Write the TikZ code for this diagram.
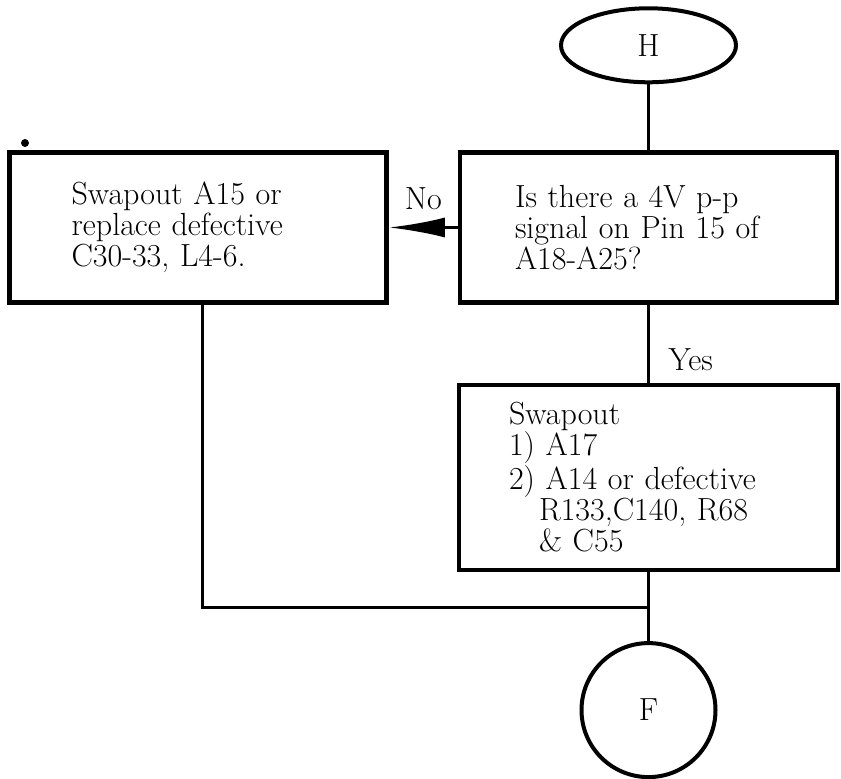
\documentclass[tikz,border=0pt]{standalone}
\usepackage{tikz}
\usetikzlibrary{arrows.meta,positioning,shapes.geometric}

\begin{document}
\begin{tikzpicture}[
      x=0.5pt, y=-0.5pt,
      box/.style={draw, line width=2.2pt, align=left, minimum width=188.5pt, minimum height=75pt, inner sep=0pt, font=\fontsize{16}{15.5}\selectfont},
      term/.style={draw, line width=2pt, font=\fontsize{16}{15.5}\selectfont},
      lbl/.style={font=\fontsize{16}{15.5}\selectfont},
      conn/.style={line width=1.5pt},
      arr/.style={-{Latex[length=28pt,width=10pt]}, line width=1.5pt}
    ]
      \useasboundingbox (0,0) rectangle (841,779);

      \node[box, text width=133.5pt] (question) at (648.5,227.5) {Is there a 4V p-p\\signal on Pin 15 of\\A18-A25?};
      \node[box, text width=126.5pt, left=34.5pt of question] (swapA15) {Swapout A15 or\\replace defective\\C30-33, L4-6.};
      \node[box, text width=139.5pt, minimum width=189.5pt, minimum height=92.5pt, below=39pt of question] (swapA17) {Swapout\\1) A17\\2) A14 or defective\\\hspace*{15pt}R133,C140, R68\\\hspace*{15pt}\& C55};

      \node[term, ellipse, minimum width=87.5pt, minimum height=37pt, above=33pt of question] (entryH) {H};
      \node[term, circle, minimum size=67pt, below=34.5pt of swapA17] (exitF) {F};

      \fill (25,143) circle (2pt) coordinate (speck);

      \coordinate (join) at (exitF.north |- 0,608);

      \draw[conn] (entryH) -- (question);
      \draw[arr] (question) -- node[lbl, above=5pt] (no) {No} (swapA15);
      \draw[conn] (question) -- node[lbl, pos=0.7, right=6pt] (yes) {Yes} (swapA17);
      \draw[conn] (swapA17) -- (exitF);
      \draw[conn] ([xshift=2pt]swapA15.south) |- (join);
    \end{tikzpicture}
\end{document}
